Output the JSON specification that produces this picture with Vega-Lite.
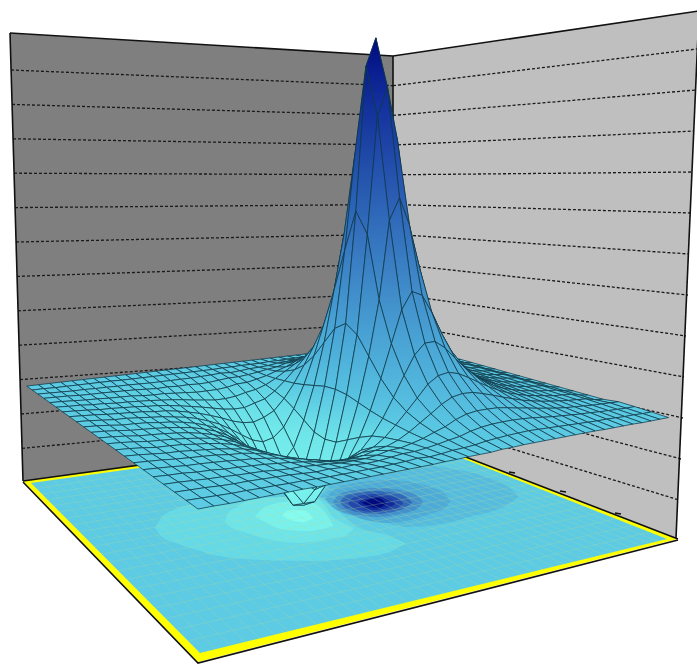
{"$schema":"https://vega.github.io/schema/vega-lite/v6.json","width":697,"height":671,"padding":0,"autosize":{"type":"none"},"background":"white","config":{"view":{"stroke":null}},
"datasets":{
"walls":[{"w":"left","x":10,"y":33,"y2":33},{"w":"left","x":23,"y":34,"y2":481},{"w":"left","x":394,"y":56,"y2":430},{"w":"right","x":393,"y":56,"y2":430},{"w":"right","x":676,"y":14,"y2":538},{"w":"right","x":699,"y":11,"y2":11},{"w":"floor","x":23,"y":481,"y2":481},{"w":"floor","x":198,"y":457,"y2":662},{"w":"floor","x":396,"y":430,"y2":611},{"w":"floor","x":678,"y":539,"y2":539},{"w":"inner","x":31,"y":483,"y2":483},{"w":"inner","x":200,"y":459.4,"y2":653},{"w":"inner","x":396,"y":432,"y2":605},{"w":"inner","x":667,"y":539,"y2":539}],
"frame":[{"s":1,"k":0,"x":10,"y":33},{"s":1,"k":1,"x":393,"y":56},{"s":1,"k":2,"x":699,"y":11},{"s":2,"k":0,"x":10,"y":33},{"s":2,"k":1,"x":23,"y":481},{"s":3,"k":0,"x":699,"y":11},{"s":3,"k":1,"x":676,"y":538},{"s":4,"k":0,"x":393,"y":56},{"s":4,"k":1,"x":393,"y":430},{"s":5,"k":0,"x":23,"y":481},{"s":5,"k":1,"x":396,"y":430},{"s":5,"k":2,"x":678,"y":539},{"s":6,"k":0,"x":23,"y":482},{"s":6,"k":1,"x":198,"y":663},{"s":6,"k":2,"x":678,"y":540},{"s":7,"k":0,"x":509,"y":472},{"s":7,"k":1,"x":515,"y":473},{"s":8,"k":0,"x":560,"y":491},{"s":8,"k":1,"x":566,"y":492},{"s":9,"k":0,"x":615,"y":513},{"s":9,"k":1,"x":621,"y":514}],
"dashes":[{"n":"L1","x":11,"y":70},{"n":"L1","x":393,"y":85.7},{"n":"L2","x":12,"y":104.4},{"n":"L2","x":393,"y":115.4},{"n":"L3","x":13,"y":138.8},{"n":"L3","x":393,"y":145.1},{"n":"L4","x":14,"y":173.2},{"n":"L4","x":393,"y":174.8},{"n":"L5","x":15,"y":207.6},{"n":"L5","x":393,"y":204.5},{"n":"L6","x":16,"y":242},{"n":"L6","x":393,"y":234.2},{"n":"L7","x":17,"y":276.4},{"n":"L7","x":393,"y":263.9},{"n":"L8","x":18,"y":310.8},{"n":"L8","x":393,"y":293.6},{"n":"L9","x":19,"y":345.2},{"n":"L9","x":393,"y":323.3},{"n":"L10","x":20,"y":379.6},{"n":"L10","x":393,"y":353},{"n":"L11","x":21,"y":414},{"n":"L11","x":393,"y":382.7},{"n":"L12","x":22,"y":448.4},{"n":"L12","x":393,"y":412.4},{"n":"R1","x":393,"y":85.7},{"n":"R1","x":697,"y":49},{"n":"R2","x":393,"y":115.4},{"n":"R2","x":696,"y":90},{"n":"R3","x":393,"y":145.1},{"n":"R3","x":694,"y":131},{"n":"R4","x":393,"y":174.8},{"n":"R4","x":693,"y":172},{"n":"R5","x":393,"y":204.5},{"n":"R5","x":691,"y":213},{"n":"R6","x":393,"y":234.2},{"n":"R6","x":689,"y":254},{"n":"R7","x":393,"y":263.9},{"n":"R7","x":688,"y":295},{"n":"R8","x":393,"y":293.6},{"n":"R8","x":686,"y":336},{"n":"R9","x":393,"y":323.3},{"n":"R9","x":684,"y":377},{"n":"R10","x":393,"y":353},{"n":"R10","x":683,"y":418},{"n":"R11","x":393,"y":382.7},{"n":"R11","x":681,"y":459},{"n":"R12","x":393,"y":412.4},{"n":"R12","x":679,"y":500}],
"contours":[
{"level":-3,"x":155,"y":528,"y2":528},{"level":-3,"x":162,"y":517,"y2":537},{"level":-3,"x":173,"y":510,"y2":542},{"level":-3,"x":200,"y":503,"y2":551},{"level":-3,"x":213,"y":501,"y2":555},{"level":-3,"x":263,"y":497,"y2":560},{"level":-3,"x":313,"y":497,"y2":561},{"level":-3,"x":337,"y":510,"y2":560},{"level":-3,"x":357,"y":527,"y2":558},{"level":-3,"x":387,"y":535,"y2":553},{"level":-3,"x":405,"y":543,"y2":544},
{"level":-8,"x":225,"y":521,"y2":521},{"level":-8,"x":228,"y":513,"y2":525},{"level":-8,"x":237,"y":507,"y2":530},{"level":-8,"x":243,"y":503,"y2":532},{"level":-8,"x":263,"y":498,"y2":538},{"level":-8,"x":297,"y":497,"y2":543},{"level":-8,"x":310,"y":497,"y2":542},{"level":-8,"x":320,"y":500,"y2":541},{"level":-8,"x":333,"y":517,"y2":538},{"level":-8,"x":343,"y":523,"y2":537},{"level":-8,"x":353,"y":528,"y2":529},
{"level":-15,"x":255,"y":517,"y2":517},{"level":-15,"x":263,"y":508,"y2":521},{"level":-15,"x":270,"y":505,"y2":525},{"level":-15,"x":287,"y":502,"y2":530},{"level":-15,"x":310,"y":502,"y2":531},{"level":-15,"x":317,"y":505,"y2":530},{"level":-15,"x":327,"y":515,"y2":528},{"level":-15,"x":333,"y":525,"y2":526},
{"level":-26,"x":282,"y":515,"y2":515},{"level":-26,"x":290,"y":510,"y2":520},{"level":-26,"x":303,"y":510,"y2":522},{"level":-26,"x":313,"y":517,"y2":518},
{"level":6,"x":320,"y":497,"y2":497},{"level":6,"x":350,"y":470,"y2":506},{"level":6,"x":373,"y":465,"y2":517},{"level":6,"x":407,"y":462,"y2":527},{"level":6,"x":447,"y":468,"y2":523},{"level":6,"x":473,"y":473,"y2":516},{"level":6,"x":490,"y":478,"y2":512},{"level":6,"x":510,"y":488,"y2":503},{"level":6,"x":518,"y":496,"y2":497},
{"level":15,"x":325,"y":499,"y2":499},{"level":15,"x":335,"y":489,"y2":509},{"level":15,"x":350,"y":484,"y2":515},{"level":15,"x":370,"y":481,"y2":521},{"level":15,"x":387,"y":480,"y2":523},{"level":15,"x":410,"y":482,"y2":520},{"level":15,"x":430,"y":487,"y2":514},{"level":15,"x":445,"y":494,"y2":508},{"level":15,"x":450,"y":501,"y2":502},
{"level":30,"x":333,"y":502,"y2":502},{"level":30,"x":340,"y":494,"y2":510},{"level":30,"x":355,"y":490,"y2":515},{"level":30,"x":378,"y":488,"y2":517},{"level":30,"x":400,"y":490,"y2":514},{"level":30,"x":415,"y":494,"y2":510},{"level":30,"x":423,"y":502,"y2":503},
{"level":50,"x":340,"y":502,"y2":502},{"level":50,"x":347,"y":495,"y2":509},{"level":50,"x":375,"y":491,"y2":514},{"level":50,"x":400,"y":494,"y2":510},{"level":50,"x":412,"y":502,"y2":503},
{"level":70,"x":348,"y":503,"y2":503},{"level":70,"x":355,"y":497,"y2":509},{"level":70,"x":375,"y":494,"y2":512},{"level":70,"x":395,"y":497,"y2":509},{"level":70,"x":403,"y":503,"y2":504},
{"level":85,"x":358,"y":503,"y2":503},{"level":85,"x":365,"y":498,"y2":508},{"level":85,"x":375,"y":496,"y2":510},{"level":85,"x":390,"y":499,"y2":507},{"level":85,"x":395,"y":503,"y2":504},
{"level":100,"x":362,"y":503,"y2":503},{"level":100,"x":368,"y":500,"y2":506},{"level":100,"x":378,"y":498,"y2":508},{"level":100,"x":386,"y":503,"y2":504}],
"grid":[
{"j":0,"z":[0,0,0,0,0,0,0,0,0,0,0,0,0,0,0,0,0,0,0,0,0,0,0,0,0,0,0,0,0,0,0,0,0,0,0,0,0,0,0,0,0]},
{"j":1,"z":[0.1,0.1,0.1,0.1,0.2,0.2,0.2,0.2,0.3,0.3,0.3,0.3,0.3,0.3,0.3,0.3,0.2,0.2,0,0,0,-0.1,-0.1,-0.2,-0.2,-0.2,-0.2,-0.2,-0.2,-0.2,-0.2,-0.2,-0.2,-0.1,-0.1,-0.1,-0.1,-0.1,-0.1,0,0]},
{"j":2,"z":[0.3,0.3,0.4,0.4,0.5,0.6,0.6,0.7,0.8,0.9,1,1.1,1.2,1.3,1.2,1.1,0.9,0.7,0.3,0.1,0,-0.3,-0.5,-0.3,-0.5,-0.6,-0.7,-0.7,-0.7,-0.7,-0.7,-0.6,-0.5,-0.5,-0.4,-0.4,-0.3,-0.3,-0.2,-0.1,0]},
{"j":3,"z":[0.5,0.5,0.6,0.7,0.8,1,1.1,1.3,1.5,1.7,2,2.3,2.5,2.6,2.6,2.5,2.2,1.7,0.9,0.5,0,-0.4,-0.7,-0.7,-1,-1.3,-1.4,-1.2,-1.3,-1.1,-1.2,-1,-0.8,-0.7,-0.6,-0.5,-0.5,-0.4,-0.2,-0.1,0]},
{"j":4,"z":[0.6,0.7,0.8,0.9,1.1,1.3,1.5,1.8,2.2,2.6,3.1,3.5,4,4.4,4.5,4.5,4.1,3.2,1.9,1,0,-0.7,-1.3,-1.4,-2,-2.3,-2.3,-2.3,-2,-1.8,-1.5,-1.5,-1.3,-1,-0.9,-0.8,-0.6,-0.5,-0.3,-0.1,0]},
{"j":5,"z":[0.1,0.4,1,1.2,1.4,1.7,2,2.4,2.9,3.5,4.3,5.1,6,6.8,7.5,7.6,7.1,5.7,3.8,2,0.2,-1.3,-2.3,-2.8,-3.5,-3.8,-3.8,-3.4,-3,-2.5,-2.1,-1.8,-1.5,-1.3,-1.1,-1,-0.7,-0.6,-0.3,-0.2,0]},
{"j":6,"z":[0.1,0.5,1.1,1.3,1.5,1.9,2.3,2.8,3.5,4.3,5.4,6.7,8.2,9.8,11.2,11.9,11.4,9.6,6.5,3.5,0.6,-2,-3.9,-4.7,-5.6,-5.6,-5.2,-4.5,-3.8,-3.2,-2.6,-2.1,-1.7,-1.5,-1.2,-1,-0.8,-0.7,-0.4,-0.2,0]},
{"j":7,"z":[0.1,0.5,1.1,1.4,1.7,2.1,2.5,3.2,4,5.1,6.6,8.6,11,13.9,16.9,18.9,18.8,16,11.1,5.9,1,-3,-6.1,-7.6,-8.5,-8.2,-7.3,-6,-4.9,-3.9,-3.1,-2.4,-1.9,-1.7,-1.3,-1.1,-0.9,-0.7,-0.4,-0.2,0]},
{"j":8,"z":[0.1,0.5,1.2,1.5,1.8,2.2,2.8,3.5,4.6,6,7.9,10.6,14.4,19.4,25.3,30.3,31.5,26.9,18.3,9.6,1.7,-4.7,-9.5,-12,-12.7,-11.7,-9.8,-7.8,-6,-4.7,-3.6,-2.8,-2.3,-1.8,-1.5,-1.2,-0.9,-0.8,-0.5,-0.2,0]},
{"j":9,"z":[0.1,0.5,1.3,1.5,1.9,2.4,3,3.8,5,6.6,9,12.7,18.1,26,37,48.5,52.9,44.6,29,14.4,2.6,-6.7,-13.8,-17.3,-18,-15.7,-12.4,-9.4,-7.1,-5.3,-4.1,-3.1,-2.4,-1.9,-1.6,-1.2,-1,-0.9,-0.5,-0.2,0]},
{"j":10,"z":[0.1,0.5,1.3,1.6,2,2.5,3.1,4,5.3,7.2,9.9,14.2,21.1,32.2,49.6,71.6,82.5,67.3,40.8,19.2,3.5,-8.7,-18.1,-23.3,-23.2,-19.3,-14.7,-10.8,-7.9,-5.8,-4.3,-3.3,-2.5,-2,-1.6,-1.3,-1.1,-0.9,-0.5,-0.2,0]},
{"j":11,"z":[0.1,0.5,1.3,1.6,2,2.5,3.2,4.1,5.4,7.3,10.3,14.8,22.2,34.8,55.7,84.3,100,92,52,21.4,3.8,-9.3,-19.8,-25.9,-25.3,-20.5,-15.6,-11.3,-8.2,-5.9,-4.4,-3.4,-2.6,-2,-1.6,-1.3,-1.1,-0.9,-0.5,-0.2,0]},
{"j":12,"z":[0.1,0.5,1.3,1.6,2,2.5,3.1,4,5.3,7.2,9.9,14.2,21.1,32.2,49.6,71.6,86,78,46,19.2,3.5,-8.7,-18.1,-23.3,-23.2,-19.3,-14.7,-10.8,-7.9,-5.8,-4.3,-3.3,-2.5,-2,-1.6,-1.3,-1.1,-0.9,-0.5,-0.2,0]},
{"j":13,"z":[0.1,0.5,1.3,1.5,1.9,2.4,3,3.8,5,6.6,9,12.7,18.1,26,37,48.5,56,50,29,14.4,2.6,-6.7,-13.8,-17.3,-18,-15.7,-12.4,-9.4,-7.1,-5.3,-4.1,-3.1,-2.4,-1.9,-1.6,-1.2,-1,-0.9,-0.5,-0.2,0]},
{"j":14,"z":[0.1,0.5,1.2,1.5,1.8,2.2,2.8,3.5,4.6,6,7.9,10.6,14.4,19.4,25.3,30.3,31.5,26.9,18.3,9.6,1.7,-4.7,-9.5,-12,-12.7,-11.7,-9.8,-7.8,-6,-4.7,-3.6,-2.8,-2.3,-1.8,-1.5,-1.2,-0.9,-0.8,-0.5,-0.2,0]},
{"j":15,"z":[0.1,0.5,1.1,1.4,1.7,2.1,2.5,3.2,4,5.1,6.6,8.6,11,13.9,16.9,18.9,18.8,16,11.1,5.9,1,-3,-6.1,-7.6,-8.5,-8.2,-7.3,-6,-4.9,-3.9,-3.1,-2.4,-1.9,-1.7,-1.3,-1.1,-0.9,-0.7,-0.4,-0.2,0]},
{"j":16,"z":[0.1,0.5,1.1,1.3,1.5,1.9,2.3,2.8,3.5,4.3,5.4,6.7,8.2,9.8,11.2,11.9,11.4,9.6,6.5,3.5,0.6,-2,-3.9,-4.7,-5.6,-5.6,-5.2,-4.5,-3.8,-3.2,-2.6,-2.1,-1.7,-1.5,-1.2,-1,-0.8,-0.7,-0.4,-0.2,0]},
{"j":17,"z":[0.1,0.4,1,1.2,1.4,1.7,2,2.4,2.9,3.5,4.3,5.1,6,6.8,7.5,7.6,7.1,5.7,3.8,2,0.2,-1.3,-2.3,-2.8,-3.5,-3.8,-3.8,-3.4,-3,-2.5,-2.1,-1.8,-1.5,-1.3,-1.1,-1,-0.7,-0.6,-0.3,-0.2,0]},
{"j":18,"z":[0.6,0.7,0.8,0.9,1.1,1.3,1.5,1.8,2.2,2.6,3.1,3.5,4,4.4,4.5,4.5,4.1,3.2,1.9,1,0,-0.7,-1.3,-1.4,-2,-2.3,-2.3,-2.3,-2,-1.8,-1.5,-1.5,-1.3,-1,-0.9,-0.8,-0.6,-0.5,-0.3,-0.1,0]},
{"j":19,"z":[0.5,0.5,0.6,0.7,0.8,1,1.1,1.3,1.5,1.7,2,2.3,2.5,2.6,2.6,2.5,2.2,1.7,0.9,0.5,0,-0.4,-0.7,-0.7,-1,-1.3,-1.4,-1.2,-1.3,-1.1,-1.2,-1,-0.8,-0.7,-0.6,-0.5,-0.5,-0.4,-0.2,-0.1,0]},
{"j":20,"z":[0.3,0.3,0.4,0.4,0.5,0.6,0.6,0.7,0.8,0.9,1,1.1,1.2,1.3,1.2,1.1,0.9,0.7,0.3,0.1,0,-0.3,-0.5,-0.3,-0.5,-0.6,-0.7,-0.7,-0.7,-0.7,-0.7,-0.6,-0.5,-0.5,-0.4,-0.4,-0.3,-0.3,-0.2,-0.1,0]},
{"j":21,"z":[0.1,0.1,0.1,0.1,0.2,0.2,0.2,0.2,0.3,0.3,0.3,0.3,0.3,0.3,0.3,0.3,0.2,0.2,0,0,0,-0.1,-0.1,-0.2,-0.2,-0.2,-0.2,-0.2,-0.2,-0.2,-0.2,-0.2,-0.2,-0.1,-0.1,-0.1,-0.1,-0.1,-0.1,0,0]}
]},
"layer":[
{"data":{"name":"walls"},"transform":[{"filter":"datum.w=='left'"}],"mark":{"type":"area","color":"#7f7f7f"},"encoding":{"x":{"field":"x","type":"quantitative","scale":{"domain":[0,697],"nice":false,"zero":false},"axis":null},"y":{"field":"y","type":"quantitative","scale":{"domain":[671,0],"nice":false,"zero":false},"axis":null},"y2":{"field":"y2"}}},
{"data":{"name":"walls"},"transform":[{"filter":"datum.w=='right'"}],"mark":{"type":"area","color":"#bfbfbf"},"encoding":{"x":{"field":"x","type":"quantitative"},"y":{"field":"y","type":"quantitative"},"y2":{"field":"y2"}}},
{"data":{"name":"dashes"},"mark":{"type":"line","stroke":"#1a1a1a","strokeWidth":1.3,"strokeDash":[3,2]},"encoding":{"x":{"field":"x","type":"quantitative"},"y":{"field":"y","type":"quantitative"},"detail":{"field":"n"}}},
{"data":{"name":"walls"},"transform":[{"filter":"datum.w=='floor'"}],"mark":{"type":"area","color":"#ffff00"},"encoding":{"x":{"field":"x","type":"quantitative"},"y":{"field":"y","type":"quantitative"},"y2":{"field":"y2"}}},
{"data":{"name":"frame"},"mark":{"type":"line","stroke":"#111111","strokeWidth":1.6},"encoding":{"x":{"field":"x","type":"quantitative"},"y":{"field":"y","type":"quantitative"},"detail":{"field":"s"},"order":{"field":"k"}}},
{"data":{"name":"walls"},"transform":[{"filter":"datum.w=='inner'"}],"mark":{"type":"area","color":"#5ccbe3"},"encoding":{"x":{"field":"x","type":"quantitative"},"y":{"field":"y","type":"quantitative"},"y2":{"field":"y2"}}},
{"data":{"name":"contours"},"mark":{"type":"area","interpolate":"monotone"},"encoding":{"x":{"field":"x","type":"quantitative"},"y":{"field":"y","type":"quantitative"},"y2":{"field":"y2"},"detail":{"field":"level"},"color":{"field":"level","type":"quantitative","legend":null,"scale":{"domain":[-26,-15,-8,-3,0,6,15,30,50,70,85,100],"range":["#85fcf0","#78f0ec","#6ee4e9","#65d9e6","#5ccbe3","#55bcdf","#4dabd8","#4390cb","#3268b8","#2248ac","#102a9b","#000a80"]}}}},
{"data":{"name":"grid"},
"transform":[
{"window":[{"op":"lead","field":"z","as":"zn"}],"sort":[{"field":"j"}]},
{"filter":"datum.zn!=null"},
{"flatten":["z"],"as":["zv"]},
{"window":[{"op":"row_number","as":"n"}],"groupby":["j"]},
{"calculate":"datum.n-1","as":"i"},
{"filter":"datum.i<40"},
{"calculate":"datum.i/40","as":"a0"},{"calculate":"(datum.i+1)/40","as":"a1"},{"calculate":"datum.j/21","as":"b0"},{"calculate":"(datum.j+1)/21","as":"b1"},
{"calculate":"datum.zv","as":"z00"},{"calculate":"datum.z[datum.i+1]","as":"z10"},{"calculate":"datum.zn[datum.i]","as":"z01"},{"calculate":"datum.zn[datum.i+1]","as":"z11"},
{"calculate":"max(datum.z00,datum.z10,datum.z01,datum.z11)","as":"zmax"},{"calculate":"max(min(datum.z00,datum.z10,datum.z01,datum.z11),-14)","as":"zmin"},
{"calculate":"{type:'Feature',properties:{},geometry:{type:'Polygon',coordinates:[[[(-370.6*datum.a0+81.8*datum.b0+396)/(1-0.18035*datum.a0-0.28368*datum.b0),(-36.1*datum.a0-45.9*datum.b0+432)/(1-0.18035*datum.a0-0.28368*datum.b0)],[(-370.6*datum.a1+81.8*datum.b0+396)/(1-0.18035*datum.a1-0.28368*datum.b0),(-36.1*datum.a1-45.9*datum.b0+432)/(1-0.18035*datum.a1-0.28368*datum.b0)],[(-370.6*datum.a1+81.8*datum.b1+396)/(1-0.18035*datum.a1-0.28368*datum.b1),(-36.1*datum.a1-45.9*datum.b1+432)/(1-0.18035*datum.a1-0.28368*datum.b1)],[(-370.6*datum.a0+81.8*datum.b1+396)/(1-0.18035*datum.a0-0.28368*datum.b1),(-36.1*datum.a0-45.9*datum.b1+432)/(1-0.18035*datum.a0-0.28368*datum.b1)],[(-370.6*datum.a0+81.8*datum.b0+396)/(1-0.18035*datum.a0-0.28368*datum.b0),(-36.1*datum.a0-45.9*datum.b0+432)/(1-0.18035*datum.a0-0.28368*datum.b0)]]]}}","as":"floorGeo"},
{"calculate":"{type:'Feature',properties:{},geometry:{type:'Polygon',coordinates:[[[(-379.3*datum.a0+85*datum.b0+401)/(1-0.1882*datum.a0-0.2731*datum.b0),(-29.6*datum.a0-39.2*datum.b0+343-2.81*datum.z00)/(1-0.1882*datum.a0-0.2731*datum.b0)],[(-379.3*datum.a1+85*datum.b0+401)/(1-0.1882*datum.a1-0.2731*datum.b0),(-29.6*datum.a1-39.2*datum.b0+343-2.81*datum.z10)/(1-0.1882*datum.a1-0.2731*datum.b0)],[(-379.3*datum.a1+85*datum.b1+401)/(1-0.1882*datum.a1-0.2731*datum.b1),(-29.6*datum.a1-39.2*datum.b1+343-2.81*datum.z11)/(1-0.1882*datum.a1-0.2731*datum.b1)],[(-379.3*datum.a0+85*datum.b1+401)/(1-0.1882*datum.a0-0.2731*datum.b1),(-29.6*datum.a0-39.2*datum.b1+343-2.81*datum.z01)/(1-0.1882*datum.a0-0.2731*datum.b1)],[(-379.3*datum.a0+85*datum.b0+401)/(1-0.1882*datum.a0-0.2731*datum.b0),(-29.6*datum.a0-39.2*datum.b0+343-2.81*datum.z00)/(1-0.1882*datum.a0-0.2731*datum.b0)]]]}}","as":"surfGeo"}
],
"layer":[
{"projection":{"type":"identity","scale":1,"translate":[0,0]},"mark":{"type":"geoshape","filled":false,"stroke":"#b5dd9a","strokeWidth":0.4,"strokeOpacity":0.35},"encoding":{"shape":{"field":"floorGeo","type":"geojson"}}},
{"projection":{"type":"identity","scale":1,"translate":[0,0]},"mark":{"type":"geoshape","fill":{"expr":"{gradient:'linear',x1:0,y1:0,x2:0,y2:1,stops:[{offset:0,color:scale('color',datum.zmax)},{offset:1,color:scale('color',datum.zmin)}]}"},"stroke":"#0f3a48","strokeWidth":0.75},"encoding":{"shape":{"field":"surfGeo","type":"geojson"}}}
]}
]}
